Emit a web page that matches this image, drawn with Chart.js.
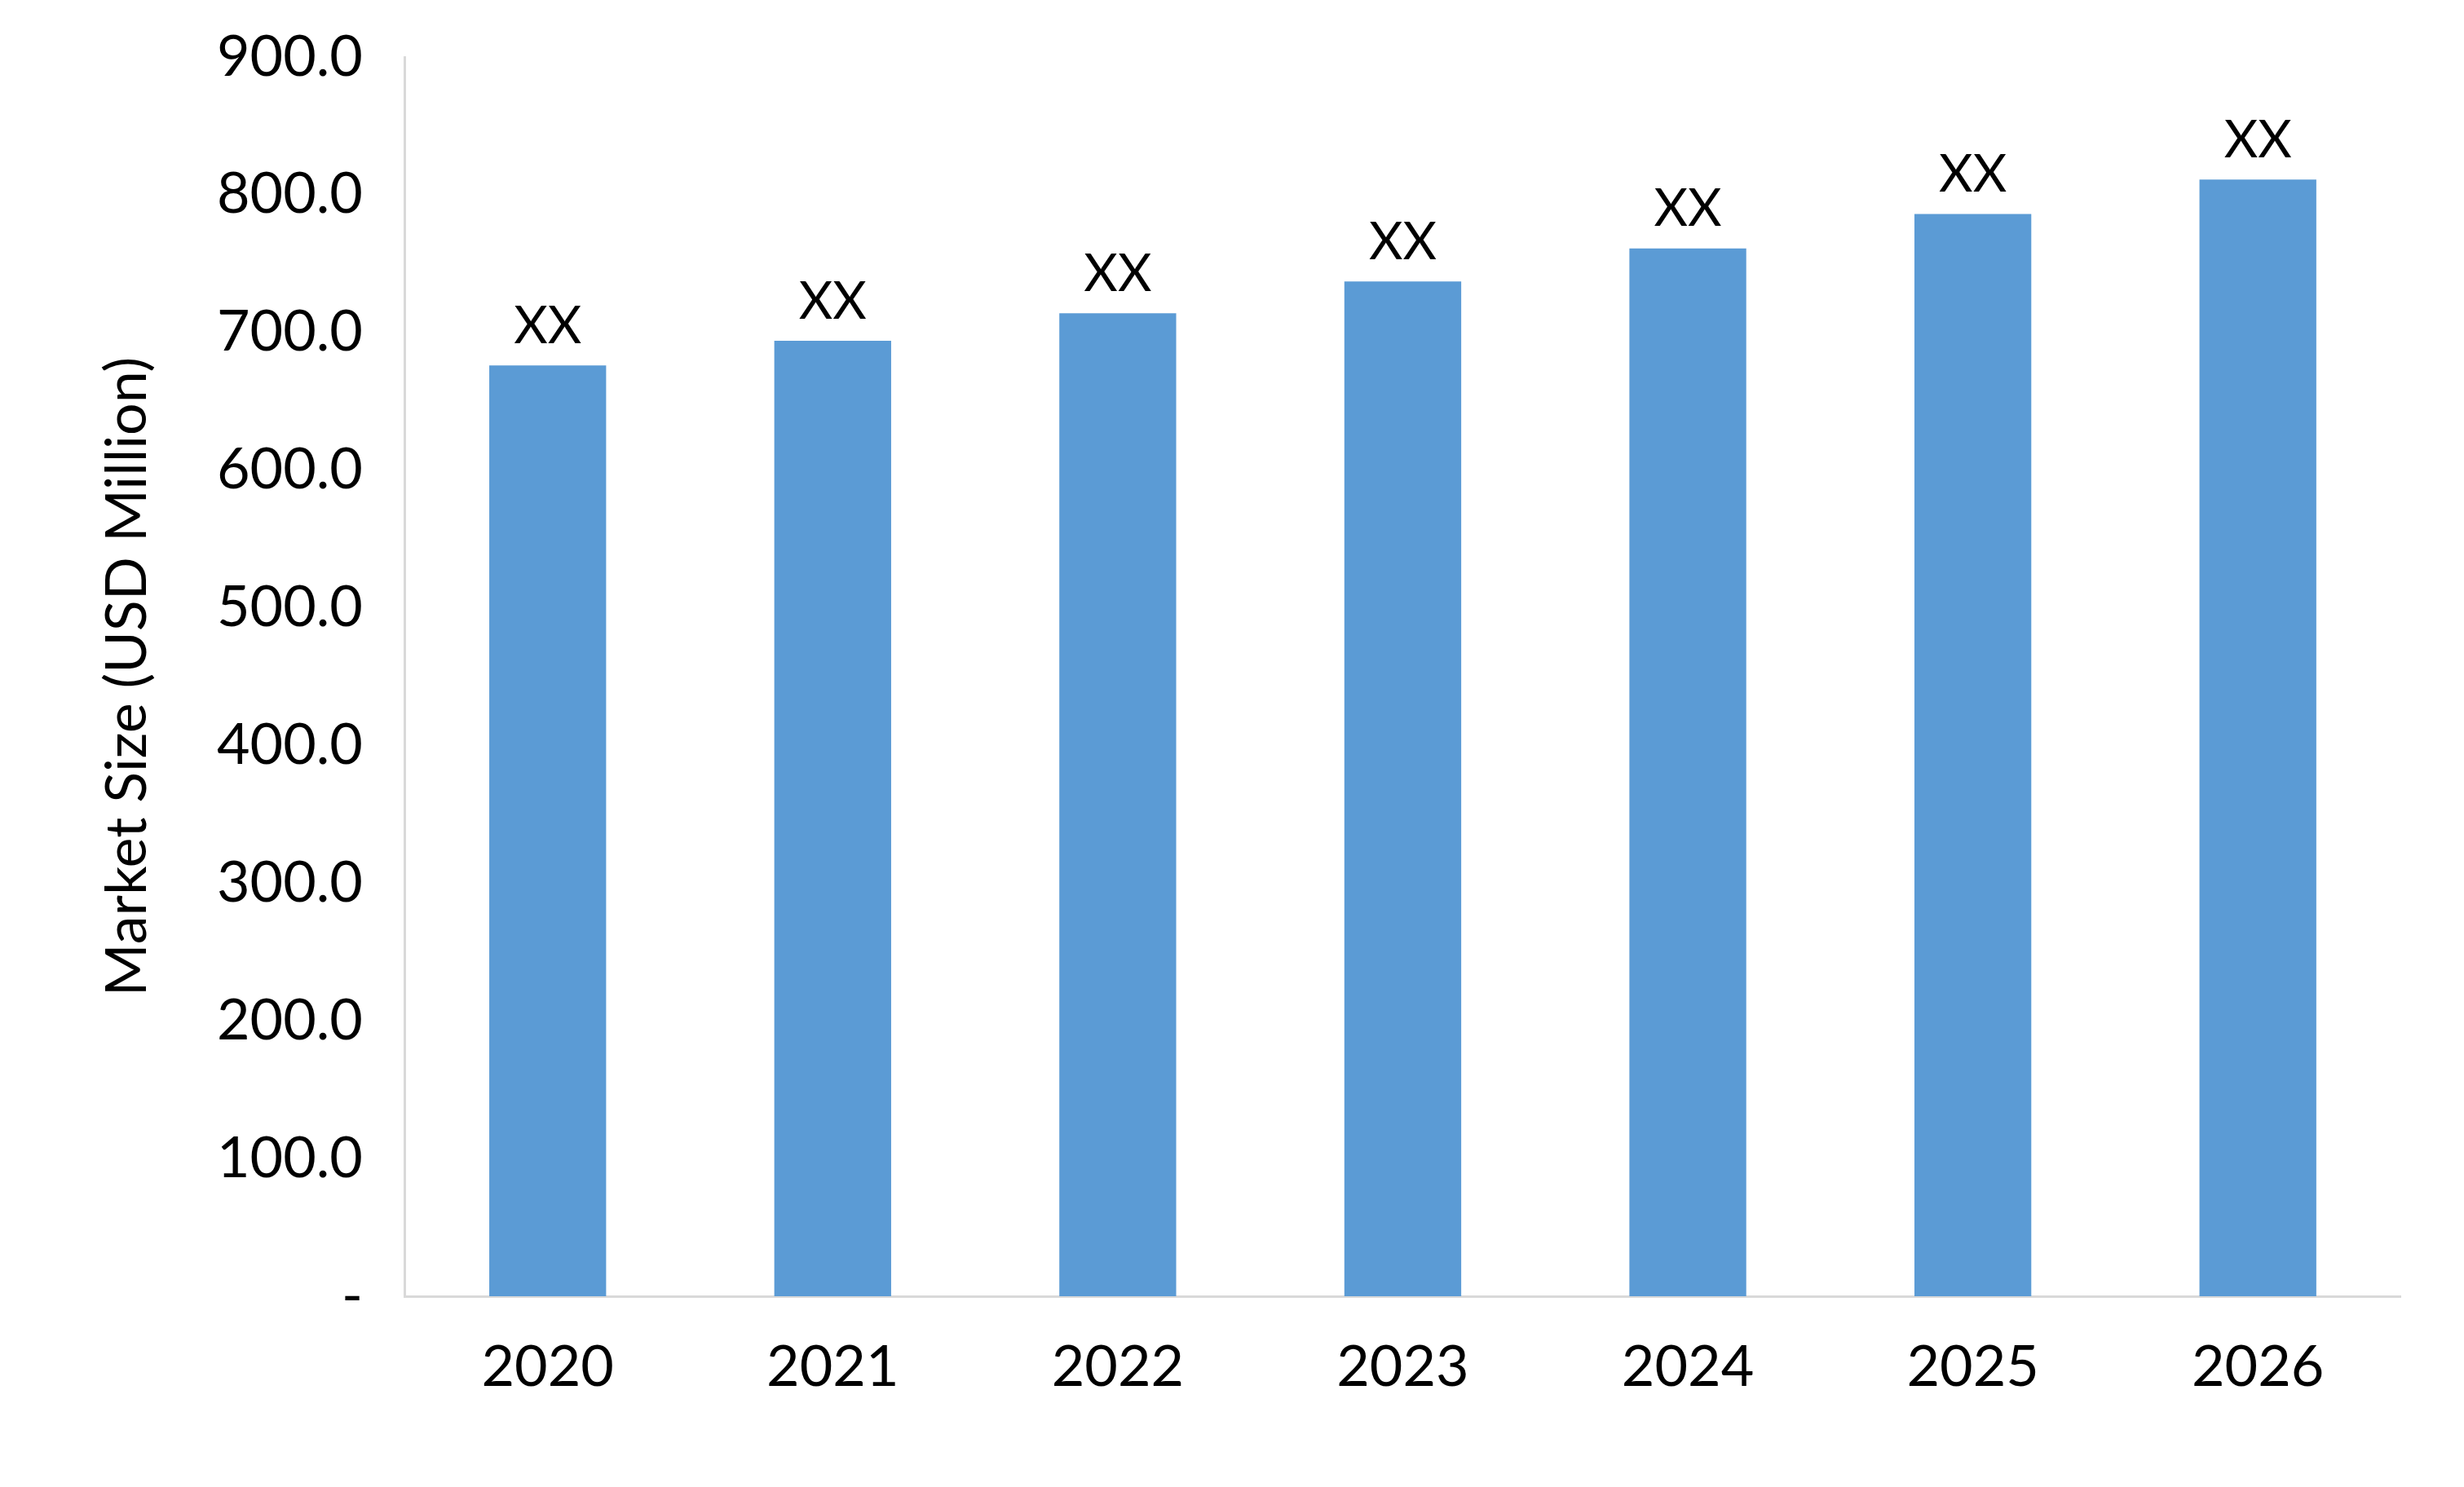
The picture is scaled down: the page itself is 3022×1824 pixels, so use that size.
<!DOCTYPE html>
<html><head><meta charset="utf-8">
<script src="https://cdn.jsdelivr.net/npm/chart.js@4"></script>
<style>html,body{margin:0;padding:0;background:#fff}#w{width:3022px;height:1824px}</style>
</head><body><div id="w"><canvas id="c"></canvas></div>
<script>
const categories=["2020","2021","2022","2023","2024","2025","2026"];
const values=[676,694,714,737,761,786,811];
const labels=["XX","XX","XX","XX","XX","XX","XX"];
const yTicks=[0,100,200,300,400,500,600,700,800,900];
const FONT="Lato, 'Open Sans', sans-serif";
const labelPlugin={id:'lbl',afterDatasetsDraw(ch){const ctx=ch.ctx;const m=ch.getDatasetMeta(0);ctx.save();ctx.font="64px "+FONT;ctx.fillStyle="#000";ctx.textAlign="center";ctx.textBaseline="bottom";m.data.forEach((b,i)=>ctx.fillText(labels[i],b.x,b.y-16));ctx.restore();}};
new Chart(document.getElementById('c'),{type:'bar',
data:{labels:categories,datasets:[{data:values,backgroundColor:'#5B9BD5',barPercentage:0.41,categoryPercentage:1}]},
options:{responsive:true,maintainAspectRatio:false,devicePixelRatio:1,animation:false,
layout:{padding:{left:110,right:78,top:70,bottom:60}},
plugins:{legend:{display:false},tooltip:{enabled:false}},
scales:{
x:{grid:{display:false,drawTicks:false},border:{color:'#D9D9D9',width:3},ticks:{color:'#000',font:{size:70,family:FONT},padding:45}},
y:{min:0,max:900,afterBuildTicks(s){s.ticks=yTicks.map(v=>({value:v}));},grid:{display:false,drawOnChartArea:false,drawTicks:true,tickLength:24,color:'#D9D9D9',lineWidth:3},border:{color:'#D9D9D9',width:3},
ticks:{color:'#000',font:{size:70,family:FONT},padding:28,callback:v=>v===0?'-':v.toFixed(1)},
title:{display:true,text:'Market Size (USD Million)',color:'#000',font:{size:70,family:FONT},padding:{bottom:40}}}
}},plugins:[labelPlugin]});
</script></body></html>
